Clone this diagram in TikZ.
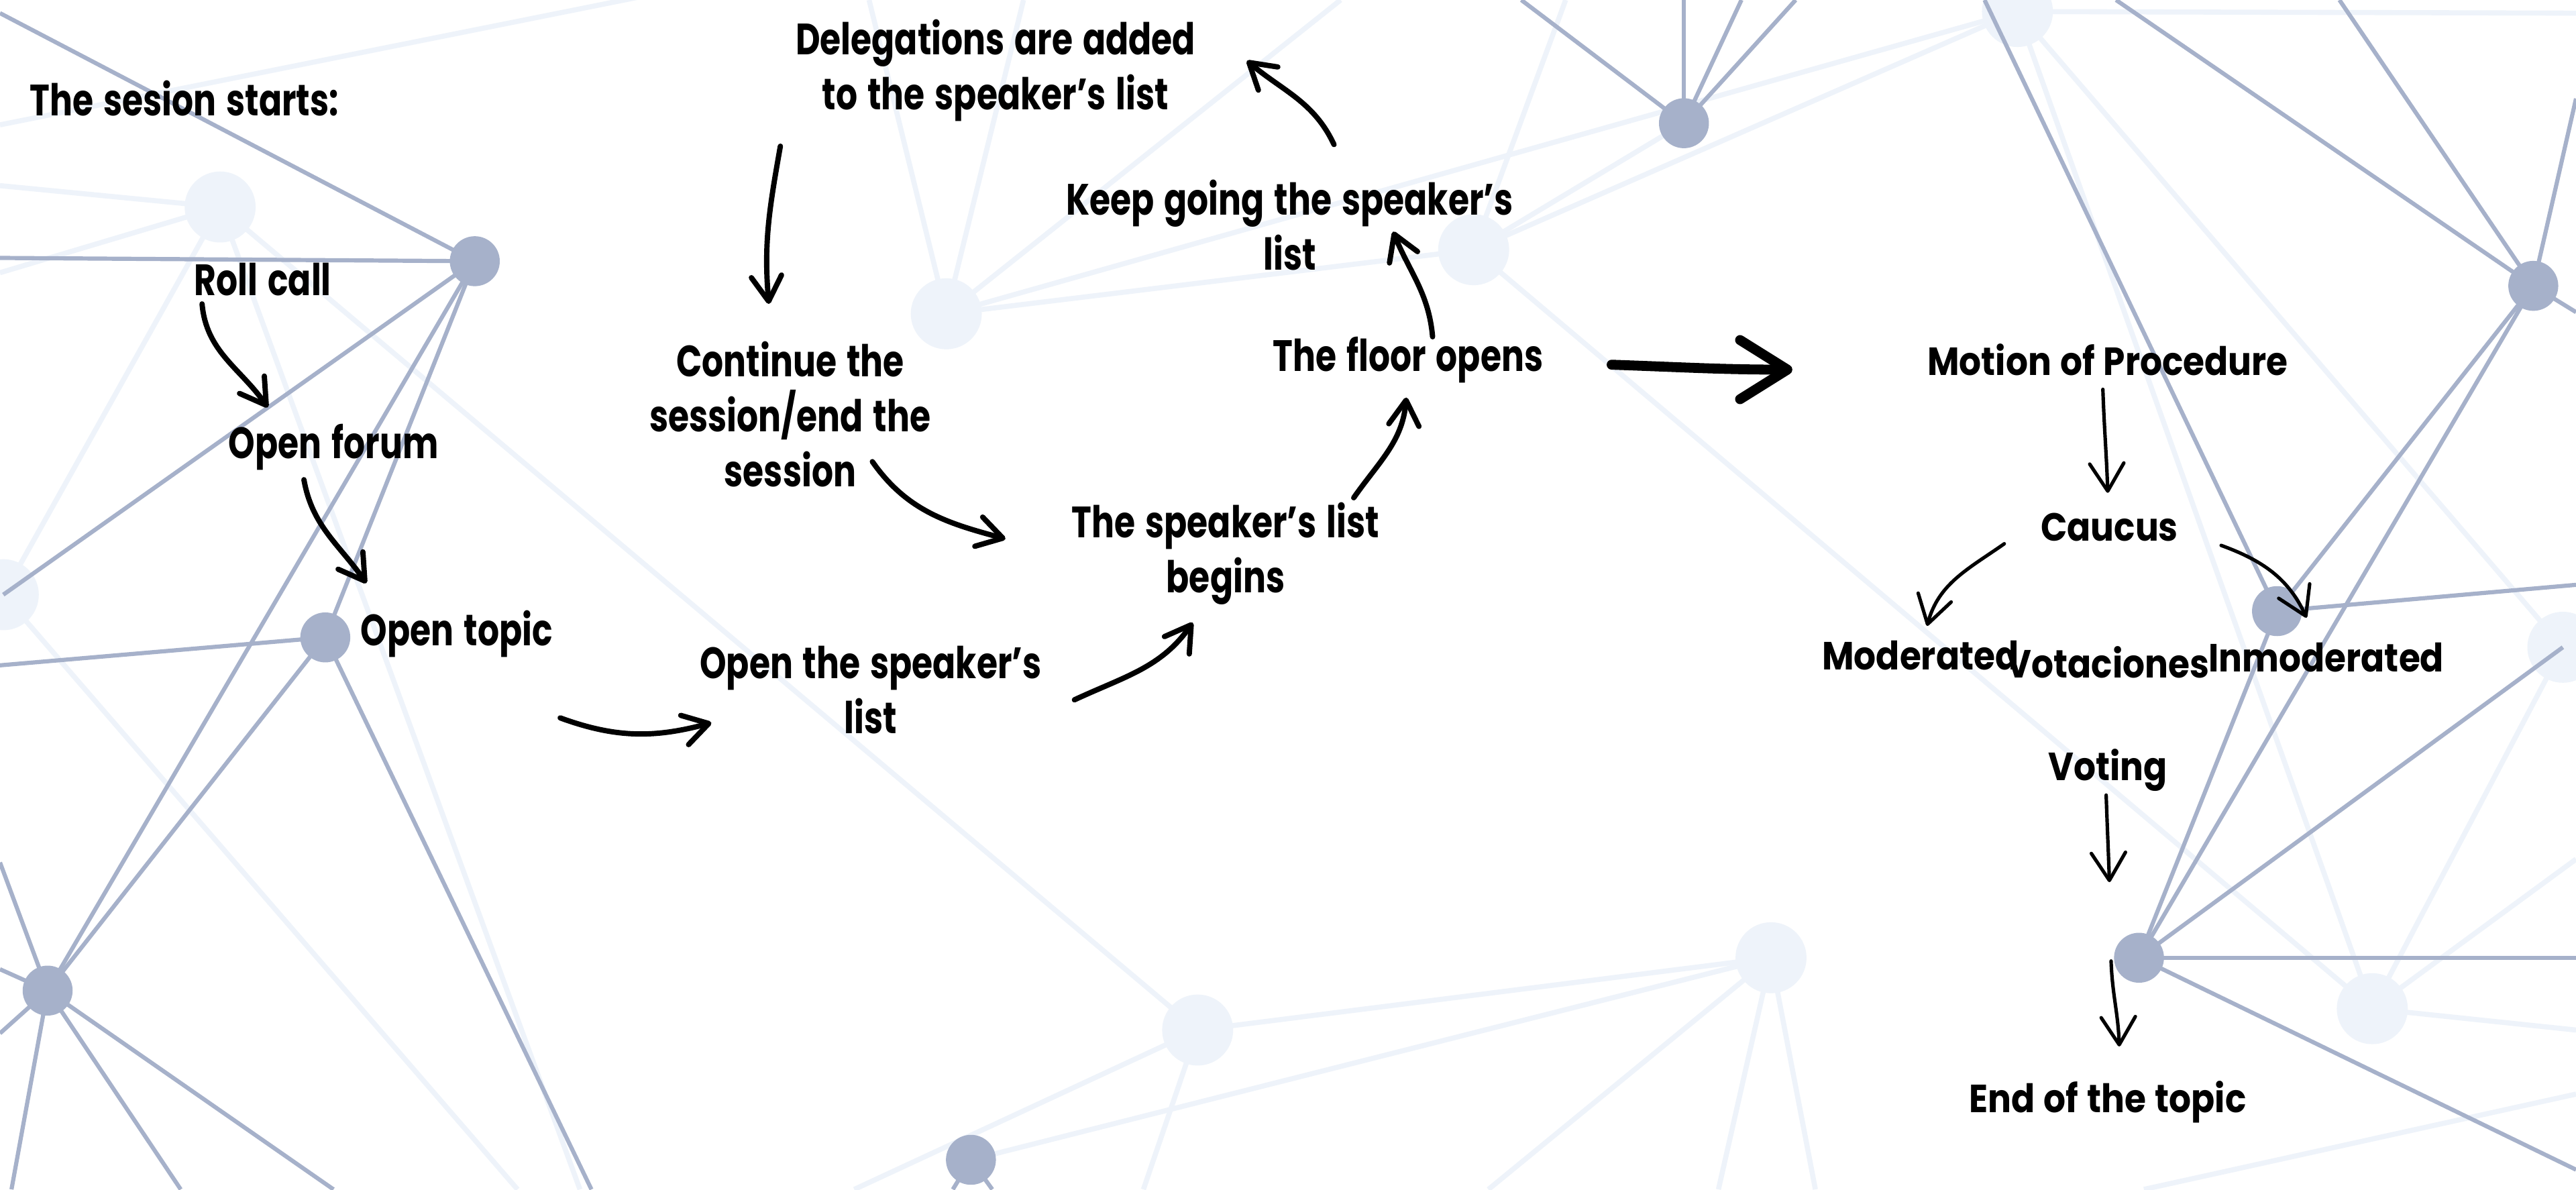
\documentclass[tikz,border=0pt]{standalone}
\usepackage{fontspec}
\newfontfamily\flowfont{Poppins Bold}[FakeStretch=0.77,WordSpace=1.4]
\newfontfamily\procfont{Poppins Bold}[FakeStretch=0.885,WordSpace=1.2]
\usetikzlibrary{arrows.meta,calc}
\definecolor{netdark}{HTML}{A6B1CA}
\definecolor{netlight}{HTML}{EEF3FA}
\tikzset{
  lbl/.style = {align=center, inner sep=0pt, text centered,
    font=\flowfont\fontsize{19}{23.8}\selectfont},
  proc/.style = {lbl, font=\procfont\fontsize{17}{21}\selectfont},
  flow/.style = {->, black, line width=2.3pt, line cap=round},
  flowthin/.style = {flow, line width=1.5pt,
    >={Straight Barb[round,length=0.42cm,width=0.52cm]}},
  flowbig/.style = {flow, line width=4.3pt,
    >={Straight Barb[round,length=0.72cm,width=0.9cm]}},
  darkline/.style = {netdark, line width=1.8pt},
  lightline/.style = {netlight, line width=2.2pt},
  darkdot/.style = {circle, fill=netdark, inner sep=0pt, minimum size=0.76cm},
  lightdot/.style = {circle, fill=netlight, inner sep=0pt, minimum size=1.08cm},
}
\begin{document}
\begin{tikzpicture}[x=0.025cm,y=0.025cm,
  >={Straight Barb[round,length=0.38cm,width=0.46cm]}]
  \useasboundingbox (0,0) rectangle (1568,-724);
  \clip (0,0) rectangle (1568,-724);
  \fill[white] (0,0) rectangle (1568,-724);

  % network in the back
  \coordinate (d1) at (289,-159);
  \coordinate (d2) at (198,-388);
  \coordinate (d3) at (29,-603);
  \coordinate (d4) at (1025,-75);
  \coordinate (d5) at (1542,-174);
  \coordinate (d6) at (1386,-372);
  \coordinate (d7) at (1302,-583);
  \coordinate (d8) at (591,-706);
  \coordinate (l1) at (134,-126);
  \coordinate (l2) at (576,-191);
  \coordinate (l3) at (897,-152);
  \coordinate (l4) at (1228,-7);
  \coordinate (l5) at (1078,-583);
  \coordinate (l6) at (729,-627);
  \coordinate (l7) at (1444,-614);
  \coordinate (l8) at (2,-362);
  \coordinate (l9) at (1560,-394);

  \foreach \a/\b in {l1/l8, l1/l6, l2/l3, l2/l4, l3/l4, l3/l7, l3/d4,
    l4/l9, l4/l7, l5/l6, l5/d8, l7/l9}
  \draw[lightline] (\a) -- (\b);
  \foreach \a/\p in {l1/{0,-113}, l1/{0,-166}, l1/{353,-724}, l8/{315,-724},
    l2/{529,0}, l2/{623,0}, l2/{816,0}, l3/{953,0}, l4/{1568,-8},
    l5/{906,-724}, l5/{1046,-724}, l5/{1105,-724}, l6/{520,-724},
    l6/{696,-724}, l7/{1568,-523}, l7/{1568,-627}}
  \draw[lightline] (\a) -- (\p);
  \draw[lightline] (0,-76) -- (420,8);
  \draw[lightline] (1305,-724) -- (1568,-666);
  \foreach \a in {l1,l2,l3,l4,l5,l6,l7,l8,l9}
  \node[lightdot] at (\a) {};

  \foreach \a/\b in {d1/l8, d1/d2, d1/d3, d2/d3, d5/d6, d5/d7, d6/d7, d7/l9}
  \draw[darkline] (\a) -- (\b);
  \foreach \a/\p in {d1/{0,-157}, d1/{0,-8}, d2/{0,-405}, d2/{360,-724},
    d3/{0,-525}, d3/{0,-590}, d3/{0,-629}, d3/{7,-724}, d3/{110,-724},
    d3/{203,-724}, d4/{926,0}, d4/{1025,0}, d4/{1060,0}, d4/{1093,0},
    d6/{1208,0}, d5/{1288,0}, d5/{1424,0}, d5/{1568,-60}, d5/{1568,-190},
    d6/{1568,-356}, d7/{1568,-583}, d7/{1568,-712}, d8/{580,-724},
    d8/{604,-724}}
  \draw[darkline] (\a) -- (\p);
  \foreach \a in {d1,d2,d3,d4,d5,d6,d7,d8}
  \node[darkdot] at (\a) {};

  % the session
  \node[lbl, anchor=west] (start) at (18,-60) {The sesion starts:};
  \node[lbl] (rc) at (160,-170) {Roll call};
  \node[lbl] (of) at (203,-272) {Open forum};
  \node[lbl] (ot) at (278,-386) {Open topic};

  % speaker's list loop
  \node[lbl] (osl) at (530,-420) {Open the speaker’s\\list};
  \node[lbl] (slb) at (746,-337) {The speaker’s list\\begins};
  \node[lbl] (fo) at (857,-219) {The floor opens};
  \node[lbl] (kg) at (785,-137) {Keep going the speaker’s\\list};
  \node[lbl] (del) at (606,-43) {Delegations are added\\to the speaker’s list};
  \node[lbl] (cont) at (481,-252) {Continue the\\session/end the\\session};

  % procedure
  \node[proc] (mp) at (1283,-219) {Motion of Procedure};
  \node[proc] (cau) at (1284,-321) {Caucus};
  \node[proc] (mod) at (1169,-399) {Moderated};
  \node[proc] (vot) at (1283,-403) {Votaciones};
  \node[proc] (inm) at (1416,-400) {Inmoderated};
  \node[proc] (vo) at (1283,-469) {Voting};
  \node[proc] (endt) at (1283,-671) {End of the topic};
  \coordinate (vstop) at (1284,-537);
  \coordinate (vgo) at (1285,-585);

  \draw[flow] ($(rc)+(-37,-15)$) to[out=-85,in=125] ($(of)+(-40,24)$);
  \draw[flow] ($(of)+(-18,-20)$) to[out=-80,in=125] ($(ot)+(-55,31)$);
  \draw[flow] ($(ot)+(63,-51)$) to[out=-20,in=195] ($(osl)+(-97,-20)$);
  \draw[flow] ($(osl)+(124,-6)$) to[out=25,in=-125] ($(slb)+(-20,-42)$);
  \draw[flow] ($(slb)+(78,34)$) to[out=55,in=-95] ($(fo)+(-1,-23)$);
  \draw[flow] ($(fo)+(15,14)$) to[out=95,in=-68] ($(kg)+(63,-4)$);
  \draw[flow] ($(kg)+(27,49)$) to[out=115,in=-40] ($(del)+(153,6)$);
  \draw[flow] ($(del)+(-131,-46)$) to[out=-100,in=95] ($(cont)+(-13,67)$);
  \draw[flow] ($(cont)+(50,-29)$) to[out=-55,in=165] ($(slb)+(-134,9)$);
  \draw[flowbig] ($(fo)+(124,-3)$) to[out=-2,in=180] ($(mp)+(-192,-6)$);

  \draw[flowthin] ($(mp)+(-3,-18)$) to[out=-88,in=92] ($(cau)+(-1,21)$);
  \draw[flowthin] ($(cau)+(-64,-10)$) to[out=-145,in=75] ($(mod)+(4,18)$);
  \draw[flowthin] ($(cau)+(68,-11)$) to[out=-20,in=115] ($(inm)+(-12,24)$);
  \draw[flowthin] ($(vo)+(-1,-15)$) to[out=-88,in=92] (vstop);
  \draw[flowthin] (vgo) to[out=-88,in=92] ($(endt)+(7,34)$);
\end{tikzpicture}
\end{document}
